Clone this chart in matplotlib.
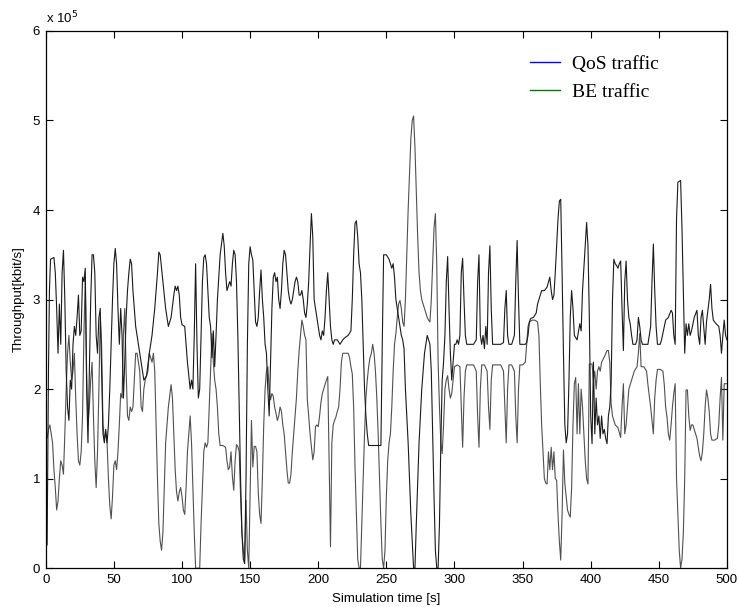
import numpy as np
import matplotlib
matplotlib.use("Agg")
import matplotlib.pyplot as plt
from matplotlib.lines import Line2D
from matplotlib.ticker import FuncFormatter

# Throughput samples (time [s], throughput in units of 1e5 kbit/s)
qos_points = [
    (1, 0.26), (2, 2.2), (2.7, 3.1), (3.5, 3.45), (6, 3.47), (7, 3.3), (8, 2.9), (9, 2.4),
    (10, 2.95), (11, 2.5), (12, 3.3), (13, 3.55), (14, 3.0), (15, 2.2), (16, 1.8), (17, 1.65),
    (18, 2.1), (19, 2.0), (20, 2.5), (21, 2.7), (22, 2.6), (23, 2.8), (24, 3.05), (25, 2.6),
    (26, 2.65), (27, 3.25), (28, 3.2), (29, 3.35), (30, 2.0), (31, 1.4), (32, 2.2), (33, 3.0),
    (34, 3.5), (35, 3.5), (36, 3.3), (37, 2.6), (38, 2.4), (39, 2.8), (40, 2.9), (41, 2.2),
    (42, 1.5), (43, 1.4), (44, 1.55), (45, 1.4), (46, 1.6), (47, 2.0), (48, 2.5), (49, 3.0),
    (50, 3.4), (51, 3.57), (52, 3.4), (53, 2.9), (54, 2.5), (55, 2.9), (56, 2.6), (57, 1.9),
    (58, 2.3), (59, 2.8), (60, 3.1), (61, 3.3), (62, 3.45), (63, 3.4), (64, 3.1), (66, 2.7),
    (68, 2.5), (70, 2.3), (72, 2.1), (74, 2.15), (76, 2.4), (78, 2.6), (80, 2.9), (82, 3.3),
    (83, 3.53), (84, 3.5), (86, 3.2), (88, 2.9), (90, 2.7), (92, 2.8), (94, 3.05), (95, 3.15),
    (96, 3.1), (97, 3.15), (98, 3.05), (99, 2.8), (100, 2.72), (102, 2.7), (104, 2.3), (106, 2.0),
    (107, 2.1), (108, 2.0), (109, 2.6), (110, 3.4), (111, 2.5), (112, 1.9), (113, 2.0), (114, 2.6),
    (115, 3.2), (116, 3.47), (117, 3.5), (118, 3.4), (119, 3.1), (120, 2.8), (121, 2.7), (122, 2.35),
    (123, 2.65), (124, 2.25), (125, 2.6), (126, 3.0), (128, 3.5), (130, 3.74), (131, 3.6), (132, 3.3),
    (133, 3.1), (134, 3.15), (135, 3.2), (136, 3.15), (137, 3.4), (138, 3.55), (139, 3.5), (140, 3.2),
    (141, 2.6), (142, 1.8), (143, 1.0), (144, 0.4), (145, 0.1), (146, 0.05), (147, 1.0), (148, 2.5),
    (149, 3.4), (150, 3.59), (151, 3.5), (152, 3.44), (153, 3.1), (154, 2.75), (155, 2.7), (156, 2.8),
    (157, 3.1), (158, 3.33), (159, 3.0), (160, 2.8), (161, 2.5), (162, 2.4), (163, 2.0), (164, 1.7),
    (165, 2.3), (166, 2.9), (167, 3.25), (168, 3.3), (169, 3.2), (170, 3.25), (171, 3.0), (172, 2.9),
    (173, 3.1), (174, 3.4), (175, 3.55), (176, 3.5), (177, 3.3), (178, 3.1), (179, 3.0), (180, 2.95),
    (181, 3.0), (182, 3.1), (183, 3.2), (184, 3.25), (185, 3.2), (186, 3.05), (187, 3.05), (188, 3.1),
    (189, 3.0), (190, 2.85), (191, 2.8), (192, 2.95), (193, 3.2), (194, 3.6), (195, 3.96), (196, 3.7),
    (197, 3.0), (198, 2.9), (199, 2.8), (200, 2.7), (201, 2.6), (202, 2.55), (203, 2.65), (204, 2.6),
    (205, 2.8), (206, 3.1), (207, 3.3), (208, 3.0), (209, 2.7), (210, 2.55), (211, 2.5), (212, 2.55),
    (214, 2.55), (216, 2.5), (218, 2.55), (220, 2.58), (222, 2.6), (224, 2.65), (225, 3.0), (226, 3.5),
    (227, 3.85), (228, 3.88), (229, 3.7), (230, 3.4), (231, 3.3), (232, 3.0), (233, 2.5), (234, 2.0),
    (235, 1.7), (236, 1.5), (237, 1.37), (246, 1.37), (247, 2.5), (248, 3.5), (250, 3.5), (252, 3.45),
    (254, 3.35), (255, 3.4), (256, 3.25), (257, 3.0), (258, 2.9), (260, 2.7), (261, 2.6), (262, 2.55),
    (263, 2.45), (264, 2.0), (266, 1.4), (268, 0.6), (270, 0.0), (271, 0.0), (272, 0.5), (274, 1.4),
    (276, 2.0), (278, 2.4), (280, 2.6), (282, 2.5), (283, 2.2), (284, 1.5), (285, 0.8), (286, 0.2),
    (287, 0.0), (288, 0.0), (289, 0.5), (290, 1.4), (291, 2.1), (292, 2.3), (293, 2.6), (294, 3.2),
    (295, 3.48), (296, 2.9), (297, 2.4), (298, 2.1), (299, 2.3), (300, 2.5), (301, 2.5), (302, 2.55),
    (303, 2.5), (304, 2.6), (305, 3.3), (306, 3.46), (307, 3.0), (308, 2.6), (309, 2.5), (310, 2.5),
    (312, 2.5), (314, 2.5), (316, 2.55), (317, 3.2), (318, 3.5), (319, 2.6), (320, 2.5), (321, 2.6),
    (322, 2.45), (323, 2.7), (324, 2.5), (325, 3.3), (326, 3.6), (327, 2.9), (328, 2.5), (330, 2.5),
    (332, 2.5), (334, 2.5), (336, 2.52), (337, 2.9), (338, 3.1), (339, 2.6), (340, 2.5), (342, 2.5),
    (344, 2.6), (345, 3.2), (346, 3.66), (347, 3.0), (348, 2.5), (350, 2.5), (352, 2.5), (353, 2.52),
    (354, 2.6), (355, 2.75), (356, 2.79), (358, 2.8), (360, 2.85), (361, 2.95), (362, 3.0), (364, 3.1),
    (366, 3.1), (368, 3.14), (370, 3.25), (371, 3.1), (372, 3.0), (373, 3.05), (374, 3.3), (375, 3.6),
    (376, 3.9), (377, 4.1), (378, 4.12), (379, 3.3), (380, 2.4), (381, 1.61), (382, 1.4), (383, 1.5),
    (384, 2.06), (385, 2.8), (386, 3.1), (387, 2.9), (388, 2.6), (390, 2.55), (392, 2.73), (393, 2.65),
    (394, 3.1), (396, 3.6), (397, 3.86), (398, 3.6), (399, 2.8), (400, 1.7), (401, 1.39), (402, 2.3),
    (403, 1.5), (404, 1.9), (405, 1.6), (406, 1.7), (407, 1.45), (408, 1.7), (409, 1.5), (410, 1.55),
    (411, 1.45), (412, 1.39), (413, 1.7), (414, 1.8), (415, 2.06), (416, 3.0), (417, 3.45), (418, 3.4),
    (419, 3.38), (420, 3.35), (421, 3.4), (422, 3.43), (423, 2.9), (424, 2.43), (425, 3.2), (426, 3.43),
    (427, 3.0), (428, 2.8), (429, 2.73), (430, 2.6), (431, 2.5), (433, 2.5), (434, 2.55), (435, 2.8),
    (436, 2.7), (437, 2.55), (438, 2.5), (440, 2.5), (442, 2.5), (444, 2.7), (445, 3.2), (446, 3.62),
    (447, 3.1), (448, 2.7), (449, 2.5), (451, 2.5), (452, 2.55), (454, 2.7), (455, 2.77), (457, 2.8),
    (459, 2.88), (460, 2.85), (461, 2.6), (462, 2.5), (463, 3.9), (464, 4.31), (466, 4.33), (467, 3.8),
    (468, 3.1), (469, 2.4), (470, 2.73), (471, 2.6), (472, 2.73), (473, 2.6), (474, 2.65), (476, 2.8),
    (478, 2.88), (479, 2.6), (480, 2.5), (481, 2.8), (482, 2.88), (484, 2.5), (485, 2.75), (487, 3.0),
    (488, 3.17), (489, 2.9), (490, 2.77), (492, 2.73), (494, 2.7), (495, 2.6), (496, 2.4), (497, 2.6),
    (498, 2.77), (499, 2.6), (500, 2.55),
]

be_points = [
    (1, 1.45), (2, 1.55), (3, 1.6), (4, 1.5), (5, 1.4), (6, 1.1), (7, 0.9), (8, 0.65),
    (9, 0.75), (10, 1.0), (11, 1.2), (12, 1.15), (13, 1.05), (14, 1.5), (15, 2.0), (16, 2.4),
    (17, 2.6), (18, 2.3), (19, 2.1), (20, 2.2), (21, 2.4), (22, 1.9), (23, 1.5), (24, 1.2),
    (25, 1.15), (26, 1.3), (27, 1.7), (28, 2.6), (29, 3.25), (30, 2.2), (31, 1.6), (32, 1.8),
    (33, 2.1), (34, 2.3), (35, 1.7), (36, 1.2), (37, 0.9), (38, 1.3), (39, 2.0), (40, 2.8),
    (41, 2.5), (42, 1.6), (43, 1.45), (44, 1.5), (45, 1.4), (46, 1.0), (47, 0.7), (48, 0.55),
    (49, 0.8), (50, 1.15), (51, 1.2), (52, 1.1), (53, 1.3), (54, 1.6), (55, 1.95), (56, 1.9),
    (57, 2.6), (58, 2.9), (59, 2.2), (60, 1.7), (61, 1.65), (62, 1.8), (63, 1.75), (64, 1.8),
    (65, 2.1), (66, 2.4), (67, 2.4), (68, 2.3), (69, 2.2), (70, 1.8), (71, 1.75), (72, 2.0),
    (73, 2.1), (74, 2.15), (75, 2.2), (76, 2.4), (77, 2.35), (78, 2.3), (79, 2.4), (80, 2.2),
    (81, 1.6), (82, 1.0), (83, 0.5), (84, 0.3), (85, 0.2), (86, 0.4), (87, 0.9), (88, 1.4),
    (90, 1.8), (92, 2.05), (93, 1.9), (94, 1.5), (95, 1.1), (96, 0.85), (97, 0.75), (98, 0.85),
    (99, 0.9), (100, 0.8), (101, 0.65), (102, 0.6), (103, 0.9), (104, 1.3), (105, 1.5), (106, 1.7),
    (107, 1.4), (108, 0.9), (109, 0.4), (110, 0.0), (113, 0.0), (114, 0.5), (116, 1.3), (117, 1.4),
    (118, 1.35), (119, 1.4), (120, 1.8), (121, 2.2), (122, 2.62), (123, 2.3), (124, 2.1), (125, 2.0),
    (126, 1.8), (127, 1.5), (128, 1.37), (130, 1.37), (132, 1.35), (133, 1.2), (134, 1.1), (135, 1.13),
    (136, 1.3), (137, 1.02), (138, 0.87), (139, 1.2), (140, 1.38), (141, 1.36), (142, 1.3), (143, 0.8),
    (144, 0.39), (145, 0.2), (146, 0.1), (147, 0.76), (148, 0.2), (149, 0.0), (150, 0.8), (151, 1.65),
    (152, 1.13), (153, 1.36), (154, 1.36), (155, 1.3), (156, 0.84), (157, 0.6), (158, 0.5), (159, 1.0),
    (160, 1.6), (161, 2.0), (162, 2.2), (163, 2.25), (164, 2.0), (165, 1.88), (166, 1.95), (167, 1.92),
    (168, 1.8), (169, 1.73), (170, 1.65), (171, 1.7), (172, 1.8), (173, 1.75), (174, 1.6), (175, 1.5),
    (176, 1.3), (177, 1.1), (178, 0.95), (179, 0.95), (180, 1.05), (181, 1.3), (182, 1.5), (183, 1.7),
    (184, 1.9), (185, 2.2), (186, 2.43), (187, 2.6), (188, 2.77), (189, 2.7), (190, 2.6), (191, 2.55),
    (192, 1.88), (193, 1.7), (194, 1.5), (195, 1.35), (196, 1.21), (197, 1.3), (198, 1.58), (199, 1.6),
    (200, 1.58), (201, 1.7), (202, 1.85), (203, 1.95), (204, 2.0), (205, 2.05), (206, 2.1), (207, 2.14),
    (208, 1.2), (209, 0.24), (210, 1.4), (211, 1.6), (212, 1.65), (213, 1.69), (214, 1.75), (215, 1.8),
    (216, 2.0), (217, 2.3), (218, 2.4), (220, 2.4), (222, 2.4), (223, 2.35), (224, 2.25), (225, 2.17),
    (226, 1.8), (227, 1.13), (228, 0.6), (229, 0.1), (230, 0.0), (231, 0.0), (232, 0.5), (233, 1.0),
    (234, 1.5), (235, 1.9), (236, 2.1), (237, 2.25), (238, 2.35), (239, 2.4), (240, 2.5), (241, 2.4),
    (242, 2.2), (243, 1.9), (244, 1.5), (245, 1.0), (246, 0.5), (247, 0.1), (248, 0.0), (249, 0.2),
    (250, 0.8), (251, 1.2), (252, 1.4), (253, 1.5), (254, 1.8), (255, 2.2), (256, 2.5), (257, 2.62),
    (258, 2.8), (259, 2.95), (260, 2.99), (261, 2.9), (262, 2.75), (263, 2.7), (264, 3.0), (265, 3.5),
    (266, 4.0), (267, 4.4), (268, 4.8), (269, 5.0), (270, 5.05), (271, 4.7), (272, 4.2), (273, 3.7),
    (274, 3.3), (275, 3.1), (276, 3.0), (277, 2.95), (278, 2.9), (279, 2.85), (280, 2.8), (281, 2.77),
    (282, 2.75), (283, 3.0), (284, 3.4), (285, 3.8), (286, 3.96), (287, 3.4), (288, 2.3), (289, 1.8),
    (290, 1.4), (291, 1.28), (292, 1.6), (293, 2.0), (294, 2.1), (295, 2.15), (296, 2.0), (297, 1.9),
    (298, 1.95), (299, 2.1), (300, 2.25), (302, 2.27), (304, 2.25), (305, 1.8), (306, 1.35), (307, 1.9),
    (308, 2.2), (309, 2.27), (310, 2.27), (312, 2.27), (314, 2.27), (316, 2.2), (317, 1.7), (318, 1.35),
    (319, 2.0), (320, 2.27), (322, 2.27), (324, 2.2), (325, 1.8), (326, 1.55), (327, 2.1), (328, 2.27),
    (330, 2.27), (332, 2.27), (334, 2.27), (336, 2.2), (337, 1.8), (338, 1.4), (339, 2.0), (340, 2.27),
    (342, 2.27), (344, 2.2), (345, 1.7), (346, 1.4), (347, 2.0), (348, 2.27), (350, 2.27), (352, 2.3),
    (353, 2.5), (354, 2.7), (355, 2.75), (357, 2.77), (359, 2.77), (361, 2.75), (362, 2.6), (363, 2.06),
    (364, 1.6), (365, 1.3), (366, 1.0), (367, 0.95), (368, 0.94), (369, 1.3), (370, 1.1), (371, 1.35),
    (372, 1.1), (373, 1.3), (374, 1.0), (375, 0.98), (376, 0.6), (377, 0.3), (378, 0.09), (379, 0.6),
    (380, 1.32), (381, 0.95), (382, 0.8), (383, 0.65), (384, 0.6), (385, 0.57), (386, 0.9), (387, 1.6),
    (388, 2.06), (389, 2.13), (390, 1.5), (391, 2.06), (392, 1.5), (393, 2.0), (394, 1.8), (395, 1.5),
    (396, 1.2), (397, 1.0), (398, 0.94), (399, 2.28), (401, 2.28), (402, 2.1), (403, 2.2), (404, 2.0),
    (405, 2.2), (406, 2.25), (407, 2.2), (408, 2.3), (410, 2.36), (412, 2.43), (413, 2.43), (414, 2.3),
    (415, 1.84), (416, 1.7), (417, 1.65), (418, 1.6), (420, 1.57), (422, 1.46), (423, 1.8), (424, 2.06),
    (425, 1.5), (426, 1.6), (427, 1.8), (428, 2.0), (430, 2.1), (432, 2.2), (434, 2.25), (435, 2.4),
    (436, 2.62), (437, 2.25), (439, 2.25), (441, 2.2), (442, 2.05), (444, 1.8), (446, 1.5), (447, 1.9),
    (448, 2.1), (449, 2.22), (451, 2.22), (453, 2.2), (454, 2.05), (455, 1.8), (456, 1.69), (457, 1.5),
    (458, 1.43), (459, 1.6), (460, 1.8), (461, 1.95), (462, 2.06), (463, 1.0), (464, 0.6), (465, 0.2),
    (466, 0.0), (467, 0.1), (468, 0.39), (469, 1.0), (470, 1.99), (471, 1.99), (472, 1.7), (473, 1.54),
    (474, 1.6), (475, 1.6), (476, 1.55), (478, 1.45), (480, 1.25), (481, 1.2), (482, 1.3), (483, 1.5),
    (484, 1.8), (485, 1.99), (486, 1.9), (487, 1.75), (488, 1.5), (489, 1.43), (491, 1.43), (493, 1.45),
    (494, 1.6), (495, 1.9), (496, 2.13), (497, 1.43), (498, 2.06), (500, 2.06),
]

x_ticks = [0, 50, 100, 150, 200, 250, 300, 350, 400, 450, 500]
y_ticks = [0, 1, 2, 3, 4, 5, 6]
series_labels = ["QoS traffic", "BE traffic"]
scale = 1e5

plt.rcParams["font.family"] = ["Liberation Sans", "DejaVu Sans"]

fig = plt.figure(figsize=(7.38, 6.07), dpi=100)
ax = fig.add_axes([0.062, 0.064, 0.923, 0.885])

qt, qv = zip(*qos_points)
bt, bv = zip(*be_points)
ax.plot(bt, np.array(bv) * scale, color="#505050", lw=0.8)
ax.plot(qt, np.array(qv) * scale, color="#1a1a1a", lw=0.8)

ax.set_xlim(0, 500)
ax.set_ylim(0, 6 * scale)
ax.set_xticks(x_ticks)
ax.set_yticks(np.array(y_ticks) * scale)
ax.yaxis.set_major_formatter(FuncFormatter(lambda v, p: f"{v / scale:g}"))
ax.tick_params(direction="in", top=True, right=True, length=5, width=0.8,
               labelsize=9.5, pad=4)
for s in ax.spines.values():
    s.set_linewidth(0.9)

ax.set_xlabel("Simulation time [s]", fontsize=9.5, labelpad=5)
ax.set_ylabel("Throughput[kbit/s]", fontsize=9.5, labelpad=6)
ax.text(0.0, 1.008, r"x 10$^5$", transform=ax.transAxes, fontsize=9.5,
        ha="left", va="bottom")

handles = [Line2D([], [], color="#0000ff", lw=1.0),
           Line2D([], [], color="#007f00", lw=1.0)]
ax.legend(handles, series_labels, loc="upper left", bbox_to_anchor=(0.711, 0.954),
          frameon=False, prop={"family": "Liberation Serif", "size": 14},
          handlelength=1.55, handletextpad=0.6, labelspacing=0.52,
          borderaxespad=0, borderpad=0)

fig.savefig("out.png", dpi=100)
